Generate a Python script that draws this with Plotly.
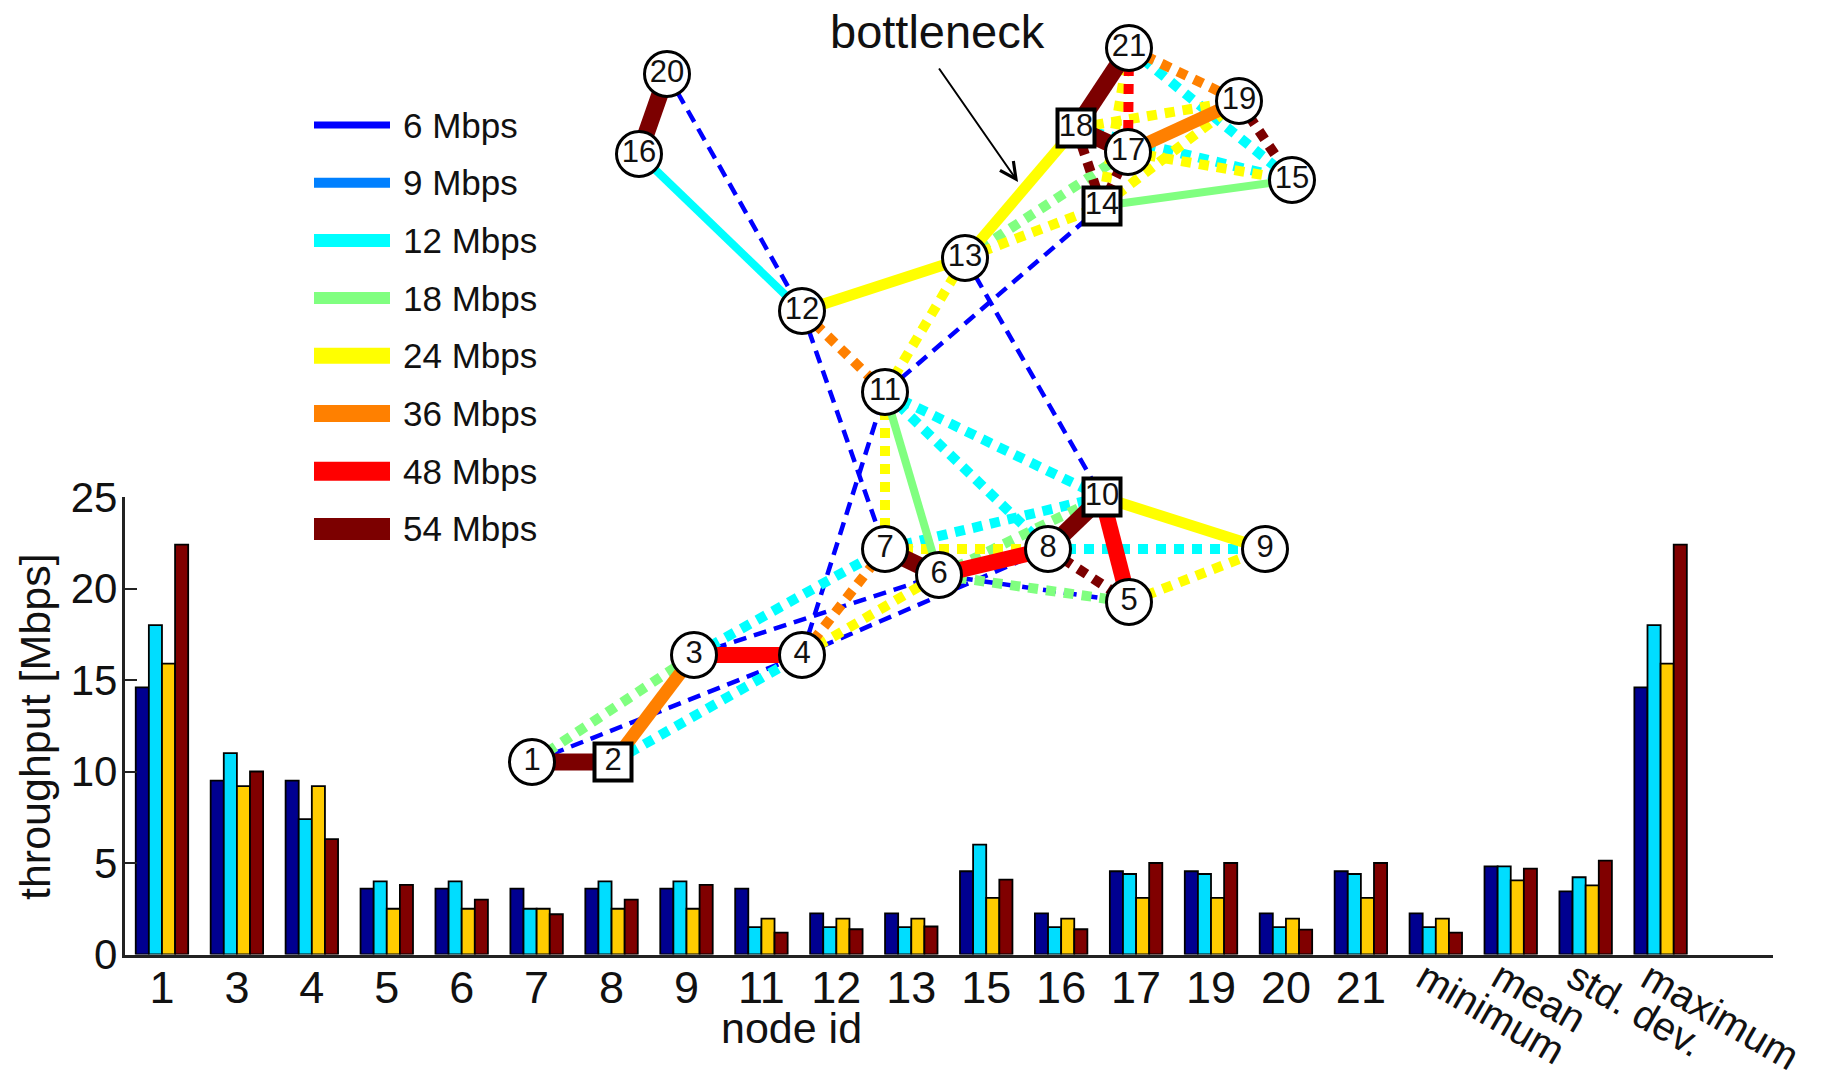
import plotly.graph_objects as go

FONT = "Liberation Sans, Arial, Helvetica, sans-serif"
INK = "#111111"

# ---------------- bar chart data ----------------
categories = ["1", "3", "4", "5", "6", "7", "8", "9", "11", "12", "13", "15", "16",
              "17", "19", "20", "21", "minimum", "mean", "std. dev.", "maximum"]
n_nodes_listed = 17  # first 17 categories are node ids, the rest are statistics

thr_navy = [14.6, 9.5, 9.5, 3.6, 3.6, 3.6, 3.6, 3.6, 3.6, 2.25, 2.25, 4.55, 2.25,
            4.55, 4.55, 2.25, 4.55, 2.25, 4.82, 3.45, 14.6]
thr_cyan = [18.0, 11.0, 7.4, 4.0, 4.0, 2.5, 4.0, 4.0, 1.5, 1.5, 1.5, 6.0, 1.5,
            4.4, 4.4, 1.5, 4.4, 1.5, 4.82, 4.22, 18.0]
thr_gold = [15.9, 9.2, 9.2, 2.5, 2.5, 2.5, 2.5, 2.5, 1.96, 1.96, 1.96, 3.09, 1.96,
            3.09, 3.09, 1.96, 3.09, 1.96, 4.05, 3.78, 15.9]
thr_darkred = [22.4, 10.0, 6.3, 3.8, 3.0, 2.2, 3.0, 3.8, 1.2, 1.38, 1.53, 4.09, 1.38,
               5.0, 5.0, 1.36, 5.0, 1.2, 4.69, 5.13, 22.4]

y_ticks = [0, 5, 10, 15, 20, 25]

# ---------------- network data ----------------
node_ids = list(range(1, 22))
node_x = [532, 613, 694, 802, 1129, 939, 885, 1048, 1265, 1102, 885, 802, 965,
          1102, 1292, 639, 1128, 1076, 1239, 667, 1129]
node_y = [762, 762, 655, 655, 602, 575, 549, 549, 549, 497, 392, 311, 258,
          206, 180, 154, 152, 128, 101, 74, 48]
square_nodes = [2, 10, 14, 18]

edge_from = [1, 2, 3, 7, 6, 8, 10, 10, 11, 12, 16, 20, 13, 14, 18, 18, 17,
             1, 2, 3, 4, 4, 11, 11, 11, 7, 7, 8, 8, 5, 6, 6, 12, 11, 13, 13, 18, 17,
             21, 21, 21, 19, 18, 17, 18, 21, 14,
             1, 3, 4, 6, 4, 12, 20, 11, 13]
edge_to = [2, 3, 4, 6, 8, 10, 5, 9, 6, 13, 12, 16, 18, 15, 17, 21, 19,
           3, 4, 7, 7, 6, 7, 10, 8, 10, 8, 9, 5, 9, 10, 5, 11, 13, 14, 17, 14, 14,
           17, 19, 15, 15, 19, 15, 15, 14, 19,
           4, 6, 8, 5, 11, 7, 12, 14, 10]
edge_rate = [54, 36, 48, 54, 48, 54, 48, 24, 18, 24, 12, 54, 24, 18, 54, 54, 36,
             18, 12, 12, 36, 24, 24, 12, 12, 12, 24, 12, 54, 24, 18, 18, 36, 24, 24, 18, 54, 54,
             48, 36, 12, 54, 24, 24, 12, 24, 24,
             6, 6, 6, 6, 6, 6, 6, 6, 6]
edge_style = (["solid"] * 17 + ["dotted"] * 30 + ["dashed"] * 9)

link_rates = [6, 9, 12, 18, 24, 36, 48, 54]
link_labels = [f"{r} Mbps" for r in link_rates]

# ---------------- styles ----------------
bar_colors = ["#000090", "#00DDFF", "#FFCC00", "#800000"]
rate_color = {6: "#0000FF", 9: "#0080FF", 12: "#00FFFF", 18: "#80FF80",
              24: "#FFFF00", 36: "#FF8000", 48: "#FF0000", 54: "#7C0000"}
solid_width = {9: 7, 12: 8, 18: 8, 24: 11, 36: 13, 48: 16, 54: 17}
legend_width = {6: 7, 9: 10, 12: 13, 18: 12, 24: 16, 36: 17, 48: 19, 54: 22}

W, H = 1825, 1080
ax_left, ax_right, ax_bottom, ax_top = 124.5, 1773, 954.5, 497

fig = go.Figure()

# bars
for vals, col, name in zip([thr_navy, thr_cyan, thr_gold, thr_darkred], bar_colors,
                           ["series 1", "series 2", "series 3", "series 4"]):
    fig.add_trace(go.Bar(
        x=list(range(len(categories))), y=vals, name=name,
        marker=dict(color=col, line=dict(color="#000000", width=1.8)),
        xaxis="x", yaxis="y", showlegend=False, hoverinfo="y"))

# network edges, grouped by style and rate
pos = {n: (x, y) for n, x, y in zip(node_ids, node_x, node_y)}
for style in ["dashed", "dotted", "solid"]:
    for r in link_rates:
        xs, ys = [], []
        for a, b, rr, st in zip(edge_from, edge_to, edge_rate, edge_style):
            if st == style and rr == r:
                xs += [pos[a][0], pos[b][0], None]
                ys += [pos[a][1], pos[b][1], None]
        if not xs:
            continue
        if style == "dashed":
            line = dict(color=rate_color[r], width=4.5, dash="13px,8px")
        elif style == "dotted":
            line = dict(color=rate_color[r], width=10, dash="10px,8px")
        else:
            line = dict(color=rate_color[r], width=solid_width[r])
        fig.add_trace(go.Scatter(x=xs, y=ys, mode="lines", line=line,
                                 xaxis="x2", yaxis="y2", showlegend=False,
                                 hoverinfo="skip"))

# nodes
circ = [i for i, n in enumerate(node_ids) if n not in square_nodes]
sq = [i for i, n in enumerate(node_ids) if n in square_nodes]
fig.add_trace(go.Scatter(
    x=[node_x[i] for i in circ], y=[node_y[i] for i in circ],
    text=[str(node_ids[i]) for i in circ], mode="markers+text",
    textposition="middle center",
    textfont=dict(family=FONT, size=31, color=INK),
    marker=dict(symbol="circle", size=45, color="white",
                line=dict(color="#000000", width=3)),
    xaxis="x2", yaxis="y2", showlegend=False, hoverinfo="text"))
fig.add_trace(go.Scatter(
    x=[node_x[i] for i in sq], y=[node_y[i] for i in sq],
    text=[str(node_ids[i]) for i in sq], mode="markers+text",
    textposition="middle center",
    textfont=dict(family=FONT, size=31, color=INK),
    marker=dict(symbol="square", size=37, color="white",
                line=dict(color="#000000", width=4)),
    xaxis="x2", yaxis="y2", showlegend=False, hoverinfo="text"))

# legend for link rates
leg_x0, leg_x1, leg_text_x = 314, 390, 401
leg_y0, leg_dy = 125, 57.7
annotations = []
for k, (r, lab) in enumerate(zip(link_rates, link_labels)):
    yy = leg_y0 + k * leg_dy
    fig.add_trace(go.Scatter(x=[leg_x0, leg_x1], y=[yy, yy], mode="lines",
                             line=dict(color=rate_color[r], width=legend_width[r]),
                             xaxis="x2", yaxis="y2", showlegend=False,
                             hoverinfo="skip"))
    annotations.append(dict(x=leg_text_x, y=yy, xref="x2", yref="y2", text=lab,
                            showarrow=False, xanchor="left", yanchor="middle",
                            font=dict(family=FONT, size=35, color=INK)))

# bottleneck label and arrow (pointing at the 13-18 link)
annotations.append(dict(x=937, y=31, xref="x2", yref="y2", text="bottleneck",
                        showarrow=False, xanchor="center", yanchor="middle",
                        font=dict(family=FONT, size=47, color=INK)))
annotations.append(dict(x=1018, y=182, xref="x2", yref="y2", text="",
                        ax=938, ay=67, axref="x2", ayref="y2",
                        showarrow=True, arrowhead=5, arrowsize=1.6,
                        arrowwidth=2, arrowcolor="#000000"))

# rotated statistic labels
for i in range(n_nodes_listed, len(categories)):
    annotations.append(dict(x=i - 0.36, y=1 - 952 / H, xref="x", yref="paper",
                            text=categories[i], showarrow=False, textangle=30,
                            xanchor="left", yanchor="top", borderpad=0,
                            font=dict(family=FONT, size=40, color=INK)))

# axis titles
annotations.append(dict(x=35 / W, y=1 - 727 / H, xref="paper", yref="paper",
                        text="throughput [Mbps]", showarrow=False, textangle=-90,
                        xanchor="center", yanchor="middle",
                        font=dict(family=FONT, size=43, color=INK)))
annotations.append(dict(x=791 / W, y=1 - 1028 / H, xref="paper", yref="paper",
                        text="node id", showarrow=False,
                        xanchor="center", yanchor="middle",
                        font=dict(family=FONT, size=43, color=INK)))

fig.update_layout(
    width=W, height=H,
    margin=dict(l=0, r=0, t=0, b=0, autoexpand=False),
    paper_bgcolor="white", plot_bgcolor="rgba(0,0,0,0)",
    barmode="group", bargap=0.3, bargroupgap=0.0,
    font=dict(family=FONT, color=INK),
    xaxis=dict(domain=[ax_left / W, ax_right / W], range=[-0.5, len(categories) + 0.5],
               tickmode="array", tickvals=list(range(n_nodes_listed)),
               ticktext=categories[:n_nodes_listed], ticks="",
               tickfont=dict(family=FONT, size=45, color=INK),
               ticklabelstandoff=-8, automargin=False,
               showline=True, linecolor="#222222", linewidth=2.5,
               showgrid=False, zeroline=False, anchor="y", fixedrange=True),
    yaxis=dict(domain=[1 - ax_bottom / H, 1 - ax_top / H], range=[0, 25],
               tickmode="array", tickvals=y_ticks, ticks="inside", ticklen=13,
               tickwidth=2, tickcolor="#222222",
               tickfont=dict(family=FONT, size=42, color=INK),
               ticklabelstandoff=-4, automargin=False,
               showline=True, linecolor="#222222", linewidth=2.5,
               showgrid=False, zeroline=False, anchor="x", fixedrange=True),
    xaxis2=dict(domain=[0, 1], range=[0, W], visible=False, anchor="y2",
                fixedrange=True, automargin=False),
    yaxis2=dict(domain=[0, 1], range=[H, 0], visible=False, anchor="x2",
                fixedrange=True, automargin=False),
    annotations=annotations,
)

fig.write_html("out.html")
